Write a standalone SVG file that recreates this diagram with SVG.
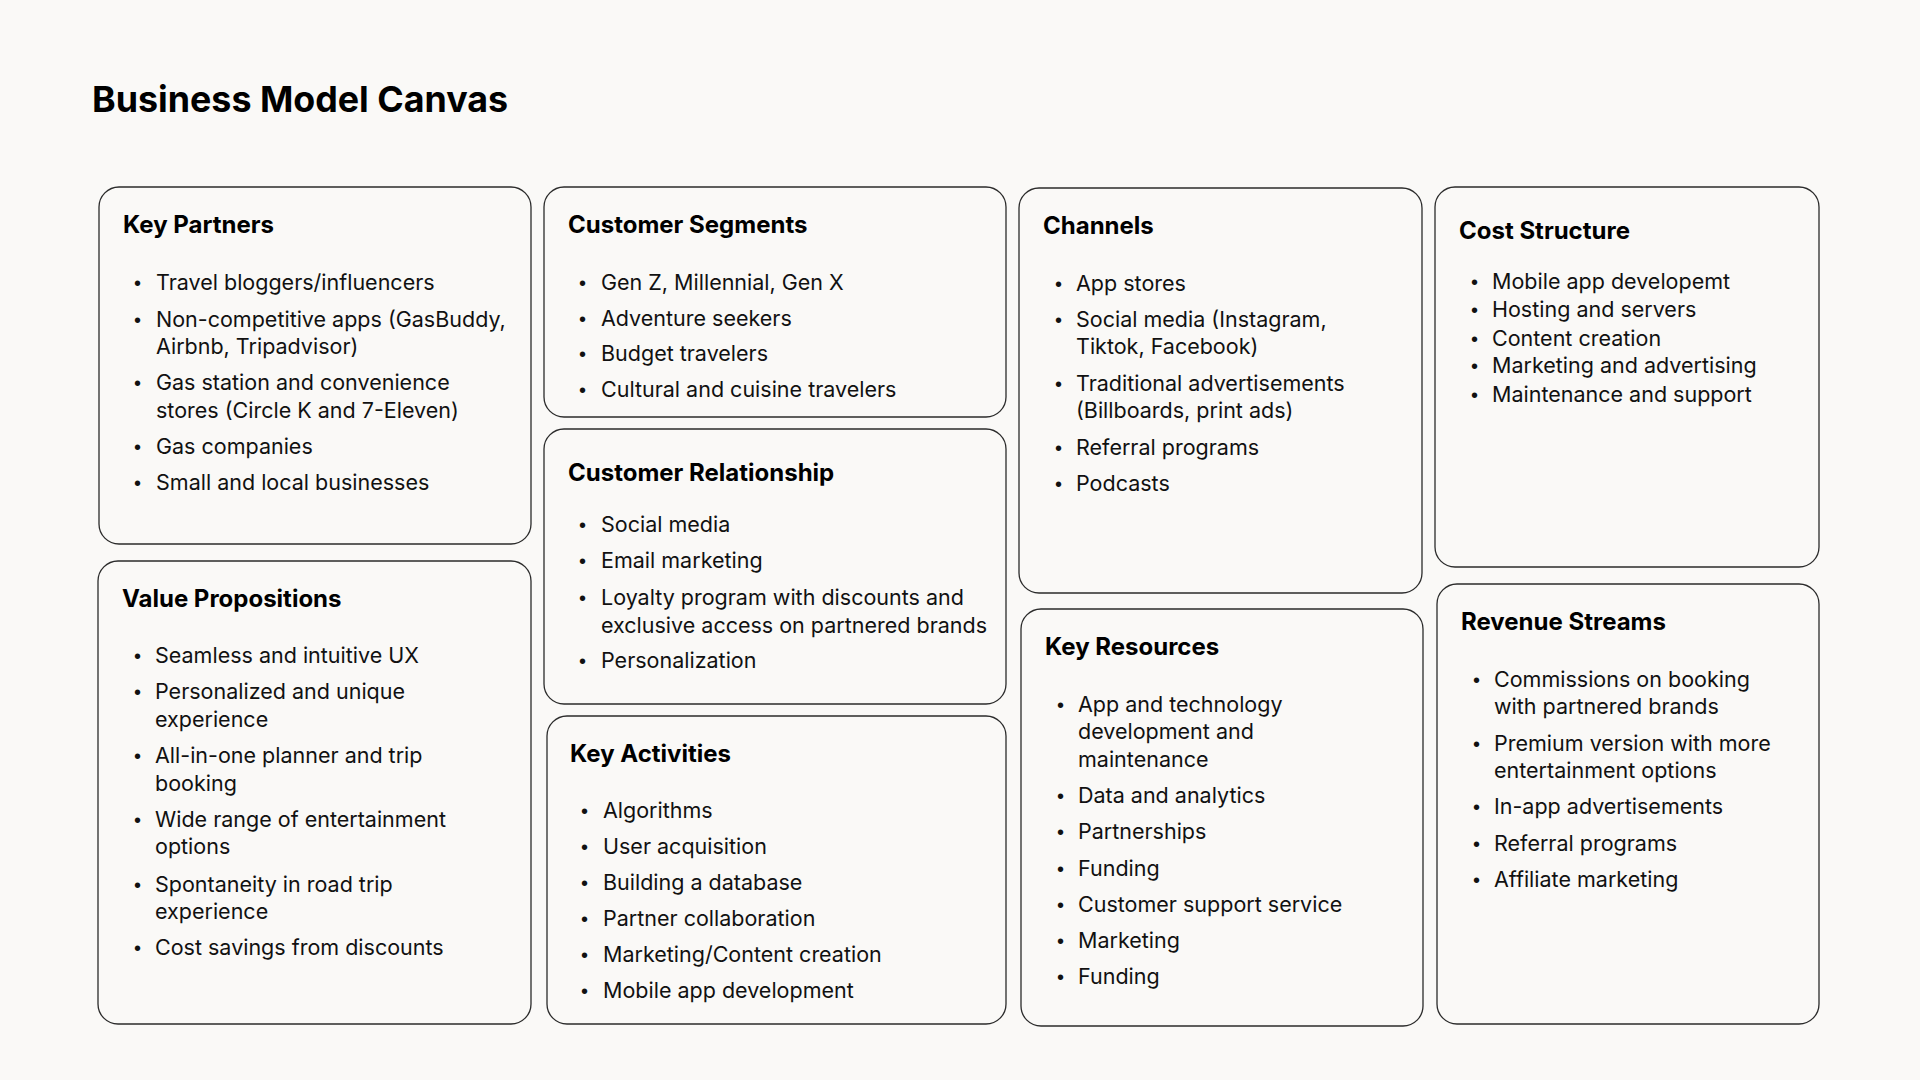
<svg xmlns="http://www.w3.org/2000/svg" width="1920" height="1080" viewBox="0 0 1920 1080">
<style>
.bg{fill:#faf9f7}
.box{fill:#faf9f7;stroke:#2b2b2b;stroke-width:1.3}
.title{font-family:Inter,"Liberation Sans",sans-serif;font-weight:700;font-size:35.8px;fill:#000}
.h{font-family:Inter,"Liberation Sans",sans-serif;font-weight:700;font-size:24px;fill:#000}
.t{font-family:Inter,"Liberation Sans",sans-serif;font-weight:400;font-size:21.5px;fill:#111}
.b{font-family:"Liberation Sans",sans-serif;font-size:20px;fill:#111}
</style>
<rect class="bg" x="0" y="0" width="1920" height="1080"/>
<text class="title" x="92" y="112">Business Model Canvas</text>

<g id="key-partners">
<rect class="box" x="99" y="187" width="432" height="357" rx="20"/>
<text class="h" x="123" y="233">Key Partners</text>
<text class="b" x="134" y="290">•</text><text class="t" x="156" y="290">Travel bloggers/influencers</text>
<text class="b" x="134" y="327">•</text><text class="t" x="156" y="327">Non-competitive apps (GasBuddy,</text>
<text class="t" x="156" y="354">Airbnb, Tripadvisor)</text>
<text class="b" x="134" y="390">•</text><text class="t" x="156" y="390">Gas station and convenience</text>
<text class="t" x="156" y="418">stores (Circle K and 7-Eleven)</text>
<text class="b" x="134" y="454">•</text><text class="t" x="156" y="454">Gas companies</text>
<text class="b" x="134" y="490">•</text><text class="t" x="156" y="490">Small and local businesses</text>
</g>

<g id="value-propositions">
<rect class="box" x="98" y="561" width="433" height="463" rx="20"/>
<text class="h" x="122" y="607">Value Propositions</text>
<text class="b" x="134" y="663">•</text><text class="t" x="155" y="663">Seamless and intuitive UX</text>
<text class="b" x="134" y="699">•</text><text class="t" x="155" y="699">Personalized and unique</text>
<text class="t" x="155" y="727">experience</text>
<text class="b" x="134" y="763">•</text><text class="t" x="155" y="763">All-in-one planner and trip</text>
<text class="t" x="155" y="791">booking</text>
<text class="b" x="134" y="827">•</text><text class="t" x="155" y="827">Wide range of entertainment</text>
<text class="t" x="155" y="854">options</text>
<text class="b" x="134" y="892">•</text><text class="t" x="155" y="892">Spontaneity in road trip</text>
<text class="t" x="155" y="919">experience</text>
<text class="b" x="134" y="955">•</text><text class="t" x="155" y="955">Cost savings from discounts</text>
</g>

<g id="customer-segments">
<rect class="box" x="544" y="187" width="462" height="230" rx="20"/>
<text class="h" x="568" y="233">Customer Segments</text>
<text class="b" x="579" y="290">•</text><text class="t" x="601" y="290">Gen Z, Millennial, Gen X</text>
<text class="b" x="579" y="326">•</text><text class="t" x="601" y="326">Adventure seekers</text>
<text class="b" x="579" y="361">•</text><text class="t" x="601" y="361">Budget travelers</text>
<text class="b" x="579" y="397">•</text><text class="t" x="601" y="397">Cultural and cuisine travelers</text>
</g>

<g id="customer-relationship">
<rect class="box" x="544" y="429" width="462" height="275" rx="20"/>
<text class="h" x="568" y="481">Customer Relationship</text>
<text class="b" x="579" y="532">•</text><text class="t" x="601" y="532">Social media</text>
<text class="b" x="579" y="568">•</text><text class="t" x="601" y="568">Email marketing</text>
<text class="b" x="579" y="605">•</text><text class="t" x="601" y="605">Loyalty program with discounts and</text>
<text class="t" x="601" y="633">exclusive access on partnered brands</text>
<text class="b" x="579" y="668">•</text><text class="t" x="601" y="668">Personalization</text>
</g>

<g id="key-activities">
<rect class="box" x="547" y="716" width="459" height="308" rx="20"/>
<text class="h" x="570" y="762">Key Activities</text>
<text class="b" x="581" y="818">•</text><text class="t" x="603" y="818">Algorithms</text>
<text class="b" x="581" y="854">•</text><text class="t" x="603" y="854">User acquisition</text>
<text class="b" x="581" y="890">•</text><text class="t" x="603" y="890">Building a database</text>
<text class="b" x="581" y="926">•</text><text class="t" x="603" y="926">Partner collaboration</text>
<text class="b" x="581" y="962">•</text><text class="t" x="603" y="962">Marketing/Content creation</text>
<text class="b" x="581" y="998">•</text><text class="t" x="603" y="998">Mobile app development</text>
</g>

<g id="channels">
<rect class="box" x="1019" y="188" width="403" height="405" rx="20"/>
<text class="h" x="1043" y="234">Channels</text>
<text class="b" x="1055" y="291">•</text><text class="t" x="1076" y="291">App stores</text>
<text class="b" x="1055" y="327">•</text><text class="t" x="1076" y="327">Social media (Instagram,</text>
<text class="t" x="1076" y="354">Tiktok, Facebook)</text>
<text class="b" x="1055" y="391">•</text><text class="t" x="1076" y="391">Traditional advertisements</text>
<text class="t" x="1076" y="418">(Billboards, print ads)</text>
<text class="b" x="1055" y="455">•</text><text class="t" x="1076" y="455">Referral programs</text>
<text class="b" x="1055" y="491">•</text><text class="t" x="1076" y="491">Podcasts</text>
</g>

<g id="key-resources">
<rect class="box" x="1021" y="609" width="402" height="417" rx="20"/>
<text class="h" x="1045" y="655">Key Resources</text>
<text class="b" x="1057" y="712">•</text><text class="t" x="1078" y="712">App and technology</text>
<text class="t" x="1078" y="739">development and</text>
<text class="t" x="1078" y="767">maintenance</text>
<text class="b" x="1057" y="803">•</text><text class="t" x="1078" y="803">Data and analytics</text>
<text class="b" x="1057" y="839">•</text><text class="t" x="1078" y="839">Partnerships</text>
<text class="b" x="1057" y="876">•</text><text class="t" x="1078" y="876">Funding</text>
<text class="b" x="1057" y="912">•</text><text class="t" x="1078" y="912">Customer support service</text>
<text class="b" x="1057" y="948">•</text><text class="t" x="1078" y="948">Marketing</text>
<text class="b" x="1057" y="984">•</text><text class="t" x="1078" y="984">Funding</text>
</g>

<g id="cost-structure">
<rect class="box" x="1435" y="187" width="384" height="380" rx="20"/>
<text class="h" x="1459" y="239">Cost Structure</text>
<text class="b" x="1471" y="289">•</text><text class="t" x="1492" y="289">Mobile app developemt</text>
<text class="b" x="1471" y="317">•</text><text class="t" x="1492" y="317">Hosting and servers</text>
<text class="b" x="1471" y="346">•</text><text class="t" x="1492" y="346">Content creation</text>
<text class="b" x="1471" y="373">•</text><text class="t" x="1492" y="373">Marketing and advertising</text>
<text class="b" x="1471" y="402">•</text><text class="t" x="1492" y="402">Maintenance and support</text>
</g>

<g id="revenue-streams">
<rect class="box" x="1437" y="584" width="382" height="440" rx="20"/>
<text class="h" x="1461" y="630">Revenue Streams</text>
<text class="b" x="1473" y="687">•</text><text class="t" x="1494" y="687">Commissions on booking</text>
<text class="t" x="1494" y="714">with partnered brands</text>
<text class="b" x="1473" y="751">•</text><text class="t" x="1494" y="751">Premium version with more</text>
<text class="t" x="1494" y="778">entertainment options</text>
<text class="b" x="1473" y="814">•</text><text class="t" x="1494" y="814">In-app advertisements</text>
<text class="b" x="1473" y="851">•</text><text class="t" x="1494" y="851">Referral programs</text>
<text class="b" x="1473" y="887">•</text><text class="t" x="1494" y="887">Affiliate marketing</text>
</g>

<g id="connectors"></g>
</svg>
